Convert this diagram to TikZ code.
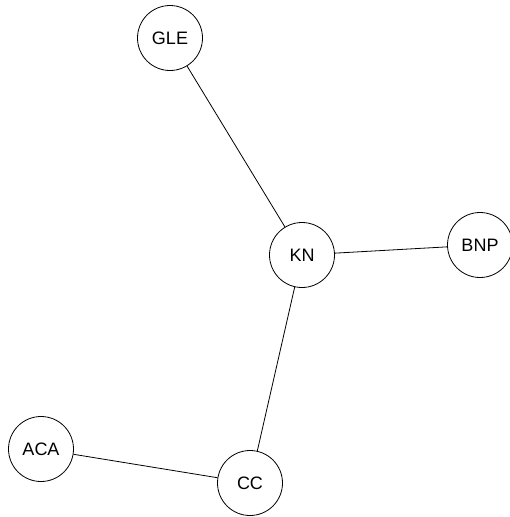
\documentclass[tikz,border=0pt]{standalone}
\usepackage{fontspec}
\setmainfont{Liberation Sans}
\usepackage{tikz}
\usetikzlibrary{positioning,calc}

\begin{document}
\begin{tikzpicture}[x=1pt,y=-1pt,line width=0.8pt,
  vert/.style={draw,circle,minimum size=65pt,inner sep=0pt,
    font=\fontsize{18}{20}\selectfont}]

  \useasboundingbox (0,0) rectangle (509,517);

  \node[vert] (GLE) at (170,38) {GLE};
  \node[vert] (KN) at (302,255) {KN};
  \node[vert] (BNP) at (480,245) {BNP};
  \node[vert] (ACA) at (41,449) {ACA};
  \node[vert] (CC) at (250,483) {CC};

  \path[-] (GLE) edge (KN);
  \path[-] (KN) edge (BNP);
  \path[-] (KN) edge (CC);
  \path[-] (ACA) edge (CC);

\end{tikzpicture}
\end{document}
